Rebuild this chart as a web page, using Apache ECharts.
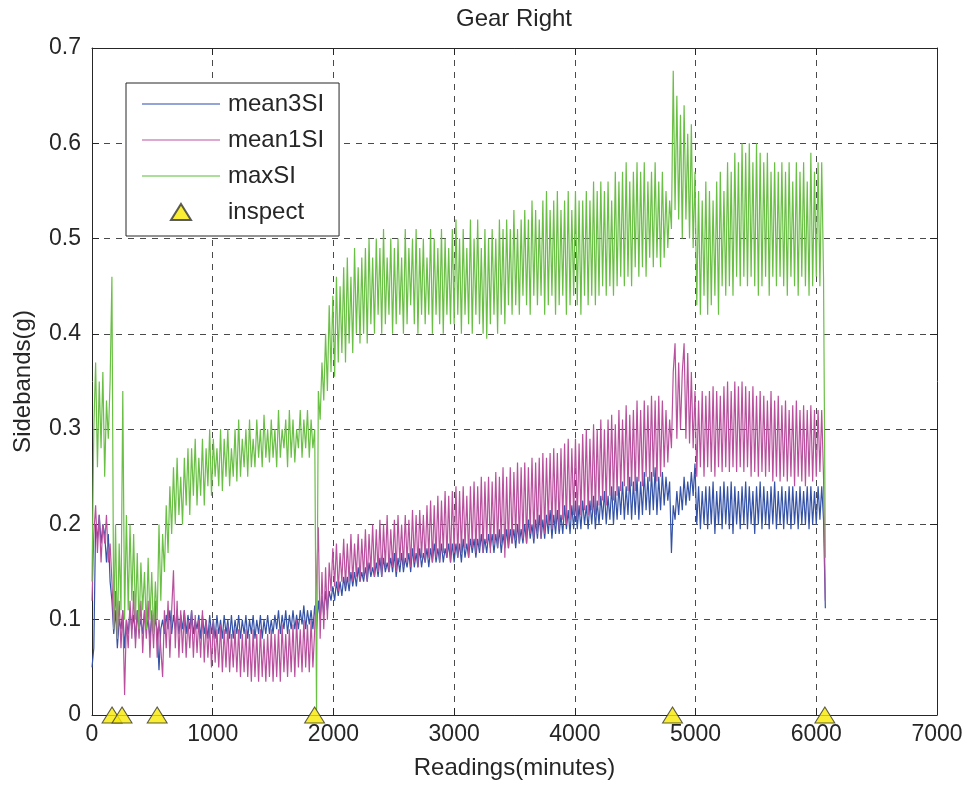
<!DOCTYPE html>
<html><head><meta charset="utf-8">
<script src="https://cdn.jsdelivr.net/npm/echarts@6/dist/echarts.min.js"></script>
<style>html,body{margin:0;padding:0;background:#fff}#c{width:967px;height:785px}</style>
</head><body><div id="c"></div>
<script>
// sampling interval of the readings (minutes)
const STEP = 15;

const mean3SI = [
0.05,0.07,0.20,0.185,0.21,0.18,0.20,0.19,0.16,0.19,
0.14,0.12,0.085,0.11,0.07,0.10,0.09,0.11,0.07,0.10,
0.085,0.11,0.09,0.105,0.08,0.11,0.09,0.10,0.085,0.11,
0.09,0.10,0.08,0.105,0.085,0.10,0.09,0.047,0.09,0.10,
0.085,0.105,0.09,0.11,0.085,0.105,0.09,0.11,0.085,0.105,
0.09,0.11,0.085,0.105,0.09,0.11,0.085,0.10,0.09,0.105,
0.08,0.105,0.085,0.10,0.08,0.105,0.085,0.10,0.08,0.105,
0.085,0.10,0.08,0.105,0.085,0.10,0.08,0.105,0.08,0.10,
0.085,0.105,0.08,0.10,0.085,0.105,0.08,0.10,0.085,0.105,
0.08,0.10,0.085,0.105,0.08,0.10,0.085,0.105,0.085,0.10,
0.085,0.105,0.09,0.11,0.085,0.105,0.09,0.11,0.085,0.105,
0.09,0.11,0.09,0.105,0.09,0.11,0.095,0.115,0.09,0.11,
0.095,0.11,0.09,0.115,0.09,0.12,0.10,0.125,0.105,0.13,
0.11,0.13,0.12,0.135,0.12,0.14,0.125,0.14,0.125,0.145,
0.13,0.145,0.13,0.15,0.135,0.15,0.135,0.155,0.14,0.15,
0.14,0.155,0.14,0.16,0.145,0.155,0.145,0.16,0.145,0.165,
0.145,0.165,0.15,0.16,0.15,0.165,0.15,0.17,0.145,0.165,
0.15,0.17,0.15,0.165,0.155,0.17,0.15,0.175,0.155,0.17,
0.155,0.175,0.155,0.17,0.16,0.175,0.155,0.175,0.16,0.18,
0.16,0.175,0.16,0.18,0.16,0.175,0.165,0.18,0.16,0.18,
0.16,0.18,0.165,0.18,0.16,0.185,0.165,0.18,0.165,0.185,
0.17,0.185,0.165,0.185,0.17,0.19,0.17,0.185,0.17,0.19,
0.175,0.19,0.17,0.19,0.175,0.195,0.17,0.19,0.175,0.195,
0.175,0.195,0.18,0.195,0.175,0.20,0.18,0.195,0.18,0.20,
0.18,0.205,0.185,0.20,0.18,0.205,0.185,0.21,0.185,0.205,
0.185,0.21,0.19,0.215,0.185,0.21,0.19,0.215,0.19,0.21,
0.19,0.22,0.195,0.215,0.19,0.22,0.195,0.225,0.195,0.22,
0.195,0.225,0.20,0.22,0.195,0.225,0.20,0.23,0.195,0.225,
0.20,0.23,0.205,0.235,0.20,0.23,0.205,0.24,0.20,0.235,
0.205,0.24,0.21,0.245,0.205,0.24,0.21,0.25,0.205,0.245,
0.21,0.25,0.205,0.245,0.21,0.255,0.215,0.25,0.21,0.255,
0.215,0.26,0.21,0.25,0.215,0.255,0.22,0.25,0.225,0.245,
0.17,0.22,0.205,0.235,0.21,0.24,0.215,0.25,0.22,0.245,
0.225,0.255,0.23,0.264,0.20,0.24,0.195,0.235,0.20,0.24,
0.195,0.24,0.20,0.245,0.19,0.235,0.20,0.24,0.195,0.245,
0.20,0.24,0.195,0.245,0.19,0.24,0.20,0.235,0.195,0.24,
0.20,0.245,0.195,0.24,0.20,0.235,0.19,0.24,0.20,0.245,
0.195,0.24,0.20,0.235,0.195,0.24,0.20,0.245,0.195,0.235,
0.20,0.24,0.195,0.235,0.20,0.24,0.195,0.24,0.20,0.235,
0.195,0.24,0.20,0.235,0.20,0.24,0.195,0.24,0.20,0.235,
0.20,0.24,0.205,0.24,0.205,0.112
];

const mean1SI = [
0.12,0.19,0.22,0.17,0.21,0.16,0.20,0.18,0.21,0.16,
0.18,0.14,0.09,0.13,0.08,0.12,0.07,0.11,0.021,0.10,
0.07,0.12,0.08,0.13,0.07,0.11,0.08,0.12,0.065,0.11,
0.08,0.12,0.06,0.11,0.07,0.12,0.06,0.10,0.07,0.04,
0.11,0.07,0.12,0.06,0.11,0.152,0.07,0.12,0.06,0.11,
0.065,0.11,0.06,0.10,0.07,0.11,0.06,0.105,0.065,0.10,
0.06,0.11,0.055,0.10,0.06,0.095,0.05,0.10,0.055,0.09,
0.05,0.095,0.045,0.09,0.05,0.095,0.045,0.085,0.05,0.09,
0.045,0.09,0.04,0.085,0.045,0.09,0.04,0.085,0.035,0.09,
0.04,0.085,0.035,0.09,0.04,0.08,0.035,0.085,0.04,0.09,
0.035,0.085,0.04,0.09,0.035,0.095,0.045,0.085,0.04,0.09,
0.045,0.095,0.04,0.10,0.05,0.09,0.045,0.10,0.05,0.095,
0.045,0.10,0.05,0.09,0.09,0.197,0.08,0.15,0.09,0.155,
0.10,0.16,0.13,0.175,0.135,0.18,0.13,0.17,0.14,0.185,
0.135,0.18,0.14,0.19,0.14,0.18,0.145,0.19,0.14,0.185,
0.145,0.195,0.14,0.19,0.15,0.20,0.145,0.195,0.15,0.205,
0.145,0.20,0.155,0.21,0.15,0.195,0.155,0.205,0.15,0.21,
0.16,0.20,0.155,0.21,0.16,0.205,0.155,0.215,0.16,0.21,
0.155,0.215,0.165,0.21,0.16,0.22,0.165,0.225,0.16,0.22,
0.165,0.23,0.16,0.225,0.17,0.235,0.165,0.23,0.16,0.235,
0.17,0.24,0.165,0.235,0.17,0.24,0.175,0.23,0.165,0.24,
0.175,0.245,0.17,0.24,0.175,0.25,0.17,0.245,0.18,0.25,
0.17,0.245,0.18,0.255,0.175,0.25,0.18,0.26,0.165,0.25,
0.175,0.26,0.18,0.255,0.185,0.265,0.18,0.26,0.185,0.265,
0.18,0.26,0.19,0.27,0.185,0.265,0.19,0.27,0.185,0.275,
0.19,0.27,0.20,0.275,0.195,0.28,0.20,0.275,0.195,0.28,
0.205,0.285,0.20,0.29,0.205,0.28,0.21,0.29,0.205,0.285,
0.21,0.295,0.215,0.30,0.21,0.29,0.215,0.305,0.21,0.30,
0.22,0.31,0.225,0.30,0.22,0.31,0.23,0.315,0.225,0.305,
0.23,0.32,0.235,0.31,0.24,0.325,0.235,0.315,0.24,0.32,
0.235,0.33,0.245,0.32,0.24,0.33,0.25,0.325,0.245,0.335,
0.25,0.33,0.245,0.335,0.25,0.33,0.26,0.32,0.265,0.31,
0.28,0.36,0.39,0.29,0.37,0.30,0.36,0.39,0.29,0.38,
0.285,0.36,0.28,0.34,0.25,0.33,0.26,0.34,0.25,0.335,
0.26,0.34,0.255,0.345,0.25,0.34,0.26,0.335,0.255,0.345,
0.26,0.35,0.255,0.34,0.26,0.35,0.255,0.345,0.26,0.35,
0.255,0.345,0.26,0.34,0.25,0.345,0.255,0.335,0.25,0.34,
0.255,0.335,0.25,0.33,0.255,0.34,0.245,0.33,0.25,0.335,
0.245,0.325,0.25,0.33,0.245,0.32,0.25,0.325,0.24,0.33,
0.25,0.32,0.245,0.325,0.24,0.32,0.25,0.325,0.245,0.32,
0.25,0.32,0.255,0.32,0.25,0.12
];

const maxSI = [
0.14,0.30,0.37,0.26,0.35,0.28,0.36,0.25,0.33,0.29,
0.35,0.46,0.09,0.20,0.08,0.18,0.11,0.34,0.10,0.21,
0.11,0.20,0.12,0.19,0.10,0.17,0.09,0.16,0.11,0.15,
0.09,0.165,0.10,0.15,0.085,0.14,0.10,0.20,0.12,0.19,
0.15,0.22,0.17,0.24,0.19,0.26,0.20,0.27,0.21,0.25,
0.20,0.27,0.22,0.28,0.21,0.28,0.23,0.29,0.22,0.27,
0.23,0.29,0.22,0.28,0.24,0.30,0.23,0.29,0.25,0.28,
0.24,0.30,0.235,0.29,0.25,0.30,0.24,0.28,0.25,0.30,
0.245,0.31,0.25,0.29,0.26,0.30,0.25,0.31,0.26,0.29,
0.26,0.31,0.27,0.30,0.26,0.315,0.27,0.30,0.265,0.31,
0.27,0.30,0.26,0.32,0.27,0.30,0.28,0.31,0.26,0.32,
0.27,0.31,0.265,0.30,0.28,0.32,0.27,0.31,0.28,0.32,
0.27,0.31,0.28,0.30,0.005,0.34,0.31,0.37,0.33,0.40,
0.34,0.43,0.36,0.44,0.355,0.46,0.37,0.45,0.38,0.47,
0.37,0.48,0.39,0.46,0.38,0.49,0.40,0.47,0.39,0.48,
0.40,0.49,0.39,0.50,0.41,0.48,0.40,0.50,0.42,0.49,
0.40,0.51,0.41,0.48,0.42,0.50,0.40,0.49,0.41,0.50,
0.42,0.48,0.40,0.51,0.41,0.49,0.43,0.50,0.41,0.51,
0.40,0.49,0.42,0.50,0.41,0.48,0.42,0.51,0.40,0.50,
0.42,0.49,0.41,0.51,0.40,0.50,0.42,0.49,0.41,0.51,
0.41,0.52,0.42,0.50,0.40,0.51,0.42,0.49,0.41,0.52,
0.40,0.50,0.42,0.52,0.41,0.49,0.40,0.51,0.395,0.50,
0.41,0.51,0.42,0.50,0.40,0.52,0.42,0.51,0.41,0.52,
0.43,0.51,0.42,0.53,0.43,0.51,0.42,0.52,0.44,0.53,
0.43,0.52,0.42,0.54,0.44,0.53,0.43,0.52,0.44,0.54,
0.42,0.55,0.43,0.53,0.44,0.54,0.42,0.55,0.43,0.53,
0.44,0.54,0.42,0.55,0.43,0.53,0.44,0.55,0.43,0.54,
0.42,0.54,0.44,0.55,0.43,0.54,0.44,0.56,0.43,0.55,
0.44,0.56,0.45,0.55,0.44,0.56,0.45,0.54,0.44,0.57,
0.45,0.56,0.46,0.57,0.45,0.58,0.46,0.56,0.45,0.57,
0.47,0.58,0.46,0.57,0.47,0.58,0.46,0.56,0.48,0.57,
0.47,0.58,0.48,0.56,0.47,0.57,0.48,0.55,0.49,0.54,
0.51,0.676,0.53,0.65,0.52,0.63,0.50,0.64,0.52,0.61,
0.50,0.62,0.49,0.57,0.43,0.55,0.42,0.54,0.44,0.56,
0.42,0.55,0.43,0.54,0.44,0.56,0.42,0.57,0.45,0.55,
0.44,0.58,0.45,0.57,0.44,0.59,0.46,0.58,0.45,0.60,
0.46,0.59,0.45,0.60,0.46,0.58,0.45,0.60,0.44,0.59,
0.45,0.58,0.46,0.59,0.44,0.57,0.46,0.58,0.45,0.57,
0.46,0.58,0.45,0.57,0.44,0.58,0.46,0.56,0.45,0.58,
0.44,0.57,0.46,0.58,0.45,0.56,0.44,0.59,0.45,0.57,
0.46,0.58,0.45,0.58,0.46,0.165
];

const inspectTimes = [166, 249, 540, 1844, 4809, 6071];
const inspectValues = [0, 0, 0, 0, 0, 0];

const FONT = 'Liberation Sans, Arial, Helvetica, sans-serif';
const INK = '#262626';
const C_BLUE = '#3452a6', C_MAG = '#b8509e', C_GREEN = '#6abf45';

function pairs(arr) { return arr.map((v, i) => [i * STEP, v]); }

const chart = echarts.init(document.getElementById('c'), null, {renderer: 'canvas'});

const gridLine = {show: true, lineStyle: {type: [6, 6], color: '#4a4a4a', width: 1}};
const axisLine = {show: true, onZero: false, lineStyle: {color: INK, width: 1}};
const tick = {show: true, inside: true, length: 7, lineStyle: {color: INK, width: 1}};
const LINE_ICON = 'path://M0 0H78V1.3H0Z';

chart.setOption({
  animation: false,
  backgroundColor: '#fff',
  title: {
    text: 'Gear Right', left: 514, top: 7, padding: 0, textAlign: 'center',
    textStyle: {fontFamily: FONT, fontSize: 24, fontWeight: 'normal', color: INK}
  },
  grid: {left: 92, right: 30, top: 48, bottom: 70, containLabel: false},
  legend: {
    orient: 'vertical', left: 126, top: 83,
    padding: [9, 15, 12, 16],
    itemWidth: 78, itemHeight: 16, itemGap: 12,
    backgroundColor: '#fff', borderColor: INK, borderWidth: 1, borderRadius: 0,
    selectedMode: false,
    textStyle: {fontFamily: FONT, fontSize: 24, color: INK, lineHeight: 24, padding: [0, 0, 0, 3]},
    data: [
      {name: 'mean3SI', icon: LINE_ICON, itemStyle: {color: '#6f86cc'}},
      {name: 'mean1SI', icon: LINE_ICON, itemStyle: {color: '#d28cc1'}},
      {name: 'maxSI', icon: LINE_ICON, itemStyle: {color: '#8fd27a'}},
      {name: 'inspect', icon: 'path://M10 0L20 16H0Z'}
    ]
  },
  xAxis: [
    {
      type: 'value', min: 0, max: 7000, interval: 1000, position: 'bottom',
      axisLine: axisLine, axisTick: tick, splitLine: gridLine,
      axisLabel: {margin: 8, fontFamily: FONT, fontSize: 23, color: INK, formatter: v => String(v)},
      name: 'Readings(minutes)', nameLocation: 'middle', nameGap: 41,
      nameTextStyle: {fontFamily: FONT, fontSize: 24, color: INK}
    },
    {
      type: 'value', min: 0, max: 7000, interval: 1000, position: 'top',
      axisLine: axisLine, axisTick: tick, splitLine: {show: false}, axisLabel: {show: false}
    }
  ],
  yAxis: [
    {
      type: 'value', min: 0, max: 0.7, interval: 0.1, position: 'left',
      axisLine: axisLine, axisTick: tick, splitLine: gridLine,
      axisLabel: {margin: 11, fontFamily: FONT, fontSize: 23, color: INK,
        formatter: v => String(Math.round(v * 10) / 10)},
      name: 'Sidebands(g)', nameLocation: 'middle', nameGap: 57,
      nameTextStyle: {fontFamily: FONT, fontSize: 24, color: INK}
    },
    {
      type: 'value', min: 0, max: 0.7, interval: 0.1, position: 'right',
      axisLine: axisLine, axisTick: tick, splitLine: {show: false}, axisLabel: {show: false}
    }
  ],
  series: [
    {
      name: 'mean3SI', type: 'line', data: pairs(mean3SI), symbol: 'none', showSymbol: false,
      sampling: false, lineStyle: {color: C_BLUE, width: 1.2}, itemStyle: {color: C_BLUE},
      emphasis: {disabled: true}, z: 2
    },
    {
      name: 'mean1SI', type: 'line', data: pairs(mean1SI), symbol: 'none', showSymbol: false,
      lineStyle: {color: C_MAG, width: 1.2}, itemStyle: {color: C_MAG},
      emphasis: {disabled: true}, z: 3
    },
    {
      name: 'maxSI', type: 'line', data: pairs(maxSI), symbol: 'none', showSymbol: false,
      lineStyle: {color: C_GREEN, width: 1.2}, itemStyle: {color: C_GREEN},
      emphasis: {disabled: true}, z: 4
    },
    {
      name: 'inspect', type: 'scatter', clip: false,
      data: inspectTimes.map((t, i) => [t, inspectValues[i]]),
      symbol: 'triangle', symbolSize: [20, 16],
      itemStyle: {color: '#f7ea00', borderColor: '#333', borderWidth: 1},
      emphasis: {disabled: true}, z: 10
    }
  ]
});
</script>
</body></html>
